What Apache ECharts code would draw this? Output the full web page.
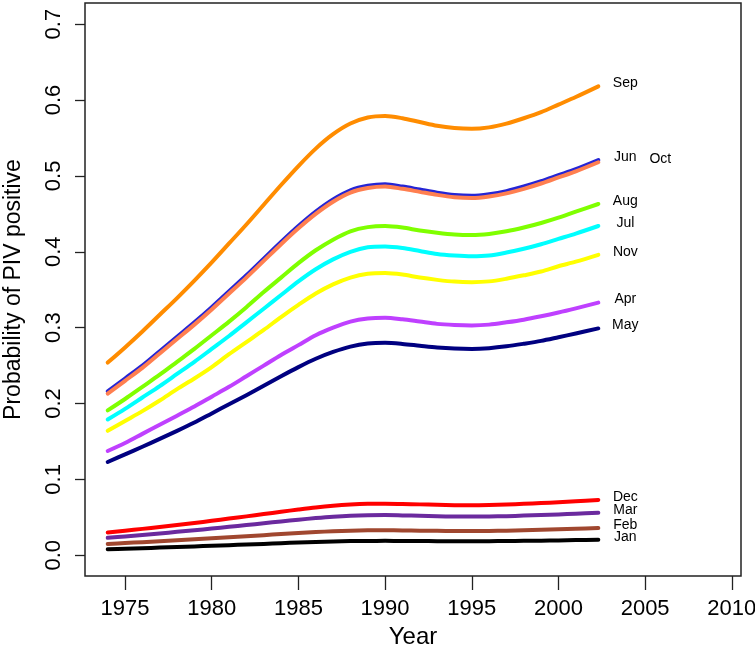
<!DOCTYPE html>
<html>
<head>
<meta charset="utf-8">
<script src="https://cdn.jsdelivr.net/npm/echarts@6/dist/echarts.min.js"></script>
<style>html,body{margin:0;padding:0;background:#fff}#chart{width:755px;height:655px}</style>
</head>
<body>
<div id="chart"></div>
<script>
// Years at which the fitted curves were read
const years = [1974, 1975, 1976, 1977, 1978, 1979, 1980, 1981, 1982, 1983, 1984, 1985, 1986, 1987, 1988, 1989,
               1990, 1991, 1992, 1993, 1994, 1995, 1996, 1997, 1998, 1999, 2000, 2001, 2002.3];
const xTicks = [1975, 1980, 1985, 1990, 1995, 2000, 2005, 2010];
const yTicks = [0, 0.1, 0.2, 0.3, 0.4, 0.5, 0.6, 0.7];
const months = ['Jan','Feb','Mar','Apr','May','Jun','Jul','Aug','Sep','Oct','Nov','Dec'];

const jan = [0.0080, 0.0087, 0.0094, 0.0101, 0.0109, 0.0117, 0.0125, 0.0133, 0.0142, 0.0150, 0.0159, 0.0168, 0.0175, 0.0182, 0.0187, 0.0189,
             0.0190, 0.0189, 0.0188, 0.0186, 0.0185, 0.0185, 0.0186, 0.0188, 0.0190, 0.0193, 0.0196, 0.0200, 0.0205];
const feb = [0.0150, 0.0161, 0.0173, 0.0185, 0.0197, 0.0210, 0.0223, 0.0237, 0.0251, 0.0265, 0.0280, 0.0293, 0.0306, 0.0317, 0.0324, 0.0329,
             0.0330, 0.0328, 0.0325, 0.0322, 0.0321, 0.0320, 0.0321, 0.0325, 0.0330, 0.0336, 0.0343, 0.0350, 0.0360];
const mar = [0.0230, 0.0249, 0.0268, 0.0288, 0.0309, 0.0330, 0.0352, 0.0375, 0.0398, 0.0422, 0.0446, 0.0469, 0.0490, 0.0508, 0.0521, 0.0528,
             0.0530, 0.0526, 0.0521, 0.0515, 0.0511, 0.0510, 0.0512, 0.0516, 0.0523, 0.0530, 0.0539, 0.0548, 0.0560];
const apr = [0.1375, 0.148, 0.160, 0.172, 0.184, 0.196, 0.209, 0.222, 0.236, 0.250, 0.264, 0.277, 0.290, 0.300, 0.308, 0.312,
             0.313, 0.311, 0.308, 0.305, 0.3036, 0.303, 0.304, 0.307, 0.3105, 0.315, 0.320, 0.3255, 0.333];
const may = [0.123, 0.133, 0.143, 0.1535, 0.164, 0.175, 0.187, 0.199, 0.211, 0.2235, 0.236, 0.248, 0.259, 0.268, 0.275, 0.279,
             0.280, 0.2786, 0.2762, 0.2739, 0.2725, 0.272, 0.273, 0.2754, 0.2788, 0.2826, 0.2874, 0.2923, 0.299];
const jun = [0.216, 0.233, 0.250, 0.269, 0.288, 0.307, 0.327, 0.348, 0.369, 0.391, 0.413, 0.434, 0.453, 0.469, 0.481, 0.487,
             0.489, 0.486, 0.482, 0.478, 0.475, 0.474, 0.476, 0.480, 0.486, 0.493, 0.501, 0.509, 0.521];
const jul = [0.179, 0.193, 0.208, 0.223, 0.239, 0.255, 0.272, 0.289, 0.307, 0.325, 0.343, 0.361, 0.377, 0.390, 0.400, 0.406,
             0.407, 0.405, 0.401, 0.397, 0.395, 0.394, 0.395, 0.399, 0.404, 0.410, 0.417, 0.424, 0.434];
const aug = [0.191, 0.206, 0.222, 0.238, 0.255, 0.272, 0.290, 0.308, 0.327, 0.347, 0.366, 0.385, 0.402, 0.416, 0.427, 0.4325,
             0.434, 0.432, 0.428, 0.425, 0.4227, 0.422, 0.4235, 0.427, 0.432, 0.438, 0.445, 0.453, 0.463];
const sep = [0.254, 0.274, 0.295, 0.317, 0.339, 0.362, 0.386, 0.411, 0.436, 0.462, 0.488, 0.513, 0.536, 0.555, 0.569, 0.577,
             0.579, 0.576, 0.571, 0.566, 0.563, 0.562, 0.564, 0.569, 0.576, 0.584, 0.594, 0.604, 0.618];
const oct = [0.213, 0.230, 0.247, 0.266, 0.285, 0.304, 0.324, 0.345, 0.366, 0.388, 0.410, 0.431, 0.450, 0.466, 0.478, 0.484,
             0.486, 0.483, 0.479, 0.475, 0.472, 0.471, 0.473, 0.477, 0.483, 0.490, 0.498, 0.506, 0.518];
const nov = [0.164, 0.177, 0.190, 0.204, 0.219, 0.233, 0.248, 0.265, 0.281, 0.297, 0.314, 0.330, 0.345, 0.357, 0.366, 0.371,
             0.372, 0.370, 0.366, 0.363, 0.3607, 0.360, 0.361, 0.3645, 0.369, 0.374, 0.381, 0.387, 0.396];
const dec = [0.0300, 0.0324, 0.0348, 0.0374, 0.0400, 0.0426, 0.0454, 0.0484, 0.0513, 0.0543, 0.0574, 0.0603, 0.0630, 0.0652, 0.0668, 0.0678,
             0.0680, 0.0676, 0.0671, 0.0665, 0.0661, 0.0660, 0.0663, 0.0669, 0.0678, 0.0688, 0.0700, 0.0713, 0.0730];

const seriesValues = [jan, feb, mar, apr, may, jun, jul, aug, sep, oct, nov, dec];
const colors = ['#000000', '#A0472F', '#6B2A9E', '#BF40FF', '#000080', '#2525D5',
                '#00FFFF', '#7FFF00', '#FF8C00', '#FF7F50', '#FFFF00', '#FF0000'];

const FONT = 'Liberation Sans, Arial, Helvetica, sans-serif';

const series = months.map((m, i) => ({
  name: m,
  type: 'line',
  smooth: 0.3,
  showSymbol: false,
  symbol: 'none',
  data: years.map((y, k) => [y, seriesValues[i][k]]),
  lineStyle: { color: colors[i], width: 4, cap: 'round', join: 'round' },
  itemStyle: { color: colors[i] },
  endLabel: {
    show: true,
    formatter: m,
    color: '#000',
    fontFamily: FONT,
    fontSize: 14,
    align: 'center',
    verticalAlign: 'middle',
    distance: 27,
    offset: m === 'Oct' ? [35, -3] : [0, -3]
  },
  emphasis: { disabled: true }
}));

const chart = echarts.init(document.getElementById('chart'), null, { renderer: 'canvas' });
chart.setOption({
  animation: false,
  backgroundColor: '#fff',
  grid: { left: 85, right: 14, top: 3, bottom: 79, containLabel: false, outerBoundsMode: 'none',
          show: true, borderColor: '#222', borderWidth: 1.5, backgroundColor: 'transparent' },
  xAxis: {
    type: 'value',
    min: 1972.69, max: 2010.53,
    name: 'Year', nameLocation: 'middle', nameGap: 45,
    nameTextStyle: { fontSize: 24, color: '#000', fontFamily: FONT },
    axisLine: { show: false, onZero: false },
    splitLine: { show: false },
    axisTick: { show: true, length: 14, customValues: xTicks, lineStyle: { color: '#222', width: 1.3 } },
    axisLabel: { customValues: xTicks, fontSize: 22, color: '#000', fontFamily: FONT, margin: 22,
                 formatter: v => String(v) }
  },
  yAxis: {
    type: 'value',
    min: -0.0273, max: 0.7279,
    name: 'Probability of PIV positive', nameLocation: 'middle', nameGap: 60,
    nameTextStyle: { fontSize: 23, color: '#000', fontFamily: FONT },
    axisLine: { show: false, onZero: false },
    splitLine: { show: false },
    axisTick: { show: true, length: 10, customValues: yTicks, lineStyle: { color: '#222', width: 1.3 } },
    axisLabel: { customValues: yTicks, rotate: 90, fontSize: 22, color: '#000', fontFamily: FONT, margin: 20,
                 formatter: v => v.toFixed(1) }
  },
  series: series
});
</script>
</body>
</html>
